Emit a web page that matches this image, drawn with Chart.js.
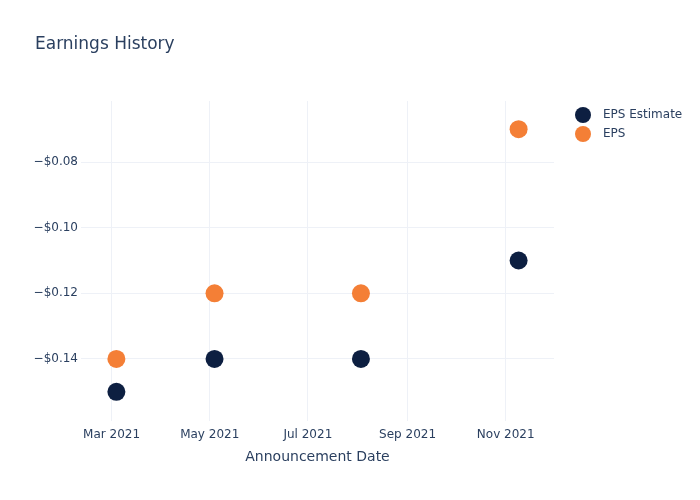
<!DOCTYPE html>
<html>
<head>
<meta charset="utf-8">
<script src="https://cdn.jsdelivr.net/npm/chart.js@4.4.1/dist/chart.umd.min.js"></script>
<style>
html,body{margin:0;padding:0;background:#fff;}
#wrap{width:700px;height:500px;position:relative;}
</style>
</head>
<body>
<div id="wrap"><canvas id="c" width="700" height="500"></canvas></div>
<script>
const announceDates = ['2021-03-04', '2021-05-04', '2021-08-03', '2021-11-09'];
const epsEstimate = [-0.15, -0.14, -0.14, -0.11];
const epsActual = [-0.14, -0.12, -0.12, -0.07];
const seriesNames = ['EPS Estimate', 'EPS'];
const seriesColors = ['#0d1f41', '#f47f36'];
const xTickDates = ['2021-03-01', '2021-05-01', '2021-07-01', '2021-09-01', '2021-11-01'];
const xTickLabels = ['Mar 2021', 'May 2021', 'Jul 2021', 'Sep 2021', 'Nov 2021'];
const yTickValues = [-0.14, -0.12, -0.10, -0.08];
const xRange = ['2021-02-10', '2021-12-01'];
const yRange = [-0.1589, -0.0614];

const FONT = '"DejaVu Sans", Verdana, sans-serif';
const TXT = '#2a3f5f';
const GRID = '#eef1f7';

const toMs = d => Date.parse(d);
const mk = (vals) => announceDates.map((d, i) => ({x: toMs(d), y: vals[i]}));

const overlay = {
  id: 'overlay',
  afterDraw(chart) {
    const ctx = chart.ctx;
    ctx.save();
    ctx.fillStyle = TXT;
    ctx.font = '17px ' + FONT;
    ctx.textBaseline = 'middle';
    ctx.textAlign = 'left';
    ctx.fillText('Earnings History', 35, 45);
    ctx.font = '12px ' + FONT;
    seriesNames.forEach((n, i) => {
      const y = 115 + i * 19;
      ctx.beginPath();
      ctx.fillStyle = seriesColors[i];
      ctx.arc(583, y, 8, 0, Math.PI * 2);
      ctx.fill();
      ctx.fillStyle = TXT;
      ctx.fillText(n, 603, y);
    });
    ctx.restore();
  }
};

new Chart(document.getElementById('c'), {
  type: 'scatter',
  data: {
    datasets: [
      {label: seriesNames[0], data: mk(epsEstimate), backgroundColor: seriesColors[0], borderWidth: 0, pointRadius: 9, pointHoverRadius: 9},
      {label: seriesNames[1], data: mk(epsActual), backgroundColor: seriesColors[1], borderWidth: 0, pointRadius: 9, pointHoverRadius: 9}
    ]
  },
  options: {
    responsive: false,
    animation: false,
    layout: {padding: {top: 101, right: 146, bottom: 0, left: 0}},
    plugins: {legend: {display: false}, title: {display: false}, tooltip: {enabled: false}},
    scales: {
      x: {
        type: 'linear',
        min: toMs(xRange[0]),
        max: toMs(xRange[1]),
        afterBuildTicks(s) { s.ticks = xTickDates.map(d => ({value: toMs(d)})); },
        afterFit(s) { s.height = 79; },
        border: {display: false},
        grid: {color: GRID, drawTicks: false, lineWidth: 1},
        ticks: {
          autoSkip: false, maxRotation: 0, padding: 7,
          color: TXT, font: {family: FONT, size: 12},
          callback: (v, i) => xTickLabels[i]
        },
        title: {display: true, text: 'Announcement Date', color: TXT, font: {family: FONT, size: 14}, padding: {top: 4, bottom: 34}}
      },
      y: {
        type: 'linear',
        min: yRange[0],
        max: yRange[1],
        afterBuildTicks(s) { s.ticks = yTickValues.map(v => ({value: v})); },
        afterFit(s) { s.width = 81; },
        border: {display: false},
        grid: {color: GRID, drawTicks: false, lineWidth: 1},
        ticks: {
          padding: 3, color: TXT, font: {family: FONT, size: 12},
          callback: v => (v < 0 ? '\u2212' : '') + '$' + Math.abs(v).toFixed(2)
        }
      }
    }
  },
  plugins: [overlay]
});
</script>
</body>
</html>
